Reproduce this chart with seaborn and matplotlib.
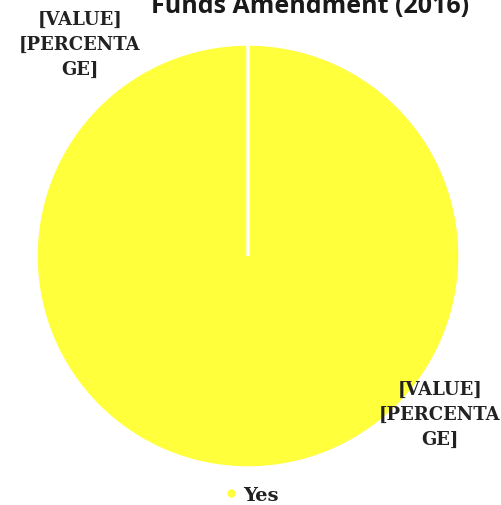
import matplotlib.pyplot as plt
from matplotlib.lines import Line2D
import seaborn as sns

# chart values
categories = ["Yes", "No"]
values = [100, 0]
title = "Funds Amendment (2016)"
label_text = "[VALUE]\n[PERCENTA\nGE]"

sns.set_theme(style="white")
colors = ["#FFFF3C", "#A5A5A5"]

W, H = 502, 506
fig = plt.figure(figsize=(W / 100, H / 100), dpi=100)

# pie centre ~ (248, 257) px, radius ~ 212 px
cx, cy, r = 248, 257, 212
ax = fig.add_axes([(cx - r) / W, (H - cy - r) / H, 2 * r / W, 2 * r / H])
ax.pie(
    values,
    colors=colors,
    startangle=90,
    counterclock=False,
    radius=1,
    wedgeprops=dict(edgecolor="white", linewidth=2.5),
)
ax.set_xlim(-1, 1)
ax.set_ylim(-1, 1)
ax.set_aspect("equal")
ax.axis("off")

# title, partly cut at the top edge like the source
fig.text(310 / W, 1 - 13 / H, title, ha="center", va="baseline",
         fontsize=18, fontweight="bold", family="Open Sans", color="#1a1a1a")

serif = dict(ha="center", va="center", fontsize=13, fontweight="bold",
             family="DejaVu Serif", color="#222222", linespacing=1.5)
fig.text(80 / W, 1 - 45 / H, label_text, **serif)
fig.text(440 / W, 1 - 415 / H, label_text, **serif)

handle = Line2D([], [], marker="o", linestyle="none", markersize=5,
                markerfacecolor=colors[0], markeredgecolor=colors[0])
leg = fig.legend([handle], [categories[0]], loc="center", bbox_to_anchor=(252 / W, 1 - 496 / H),
                 frameon=False, handlelength=0.6, handletextpad=0.3, borderaxespad=0,
                 prop=dict(family="DejaVu Serif", weight="bold", size=14))
for t in leg.get_texts():
    t.set_color("#222222")

fig.savefig("out.png", dpi=100)
